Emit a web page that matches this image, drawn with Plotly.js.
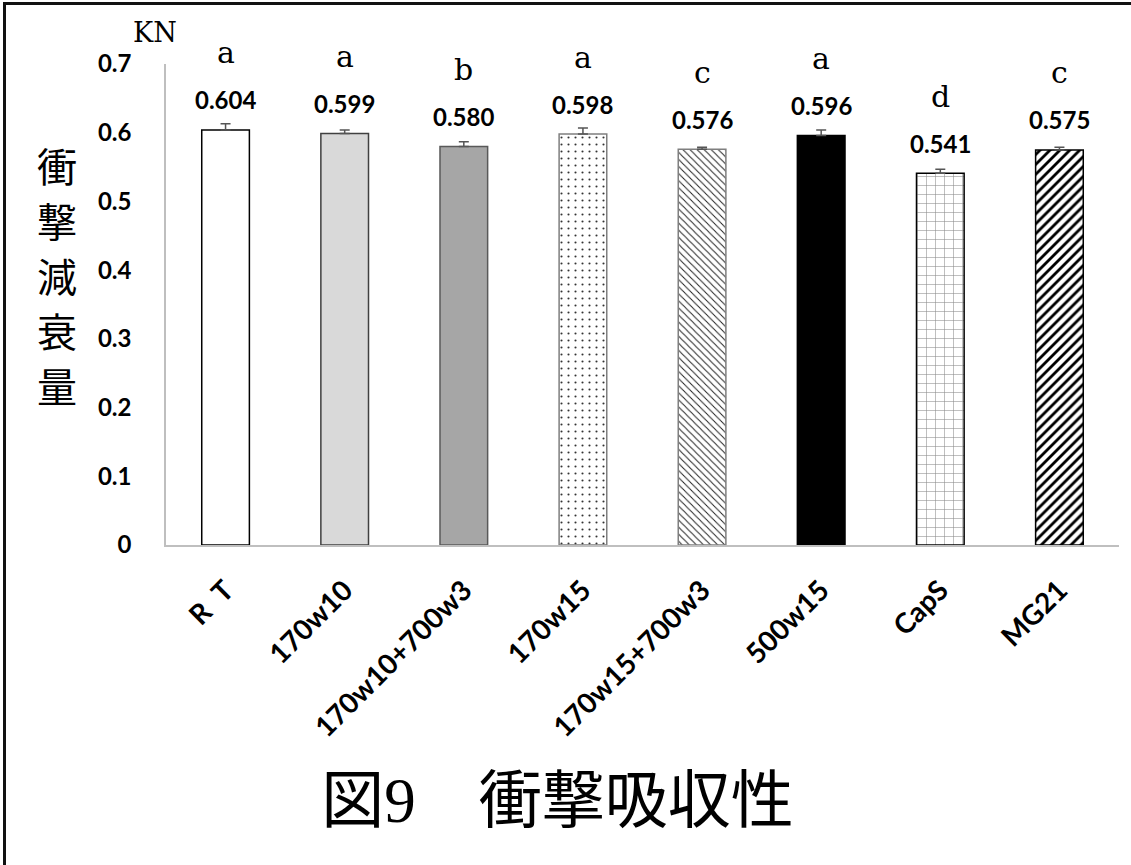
<!DOCTYPE html>
<html>
<head>
<meta charset="utf-8">
<script src="https://cdn.plot.ly/plotly-3.0.1.min.js"></script>
<style>
  html, body { margin: 0; padding: 0; background: #fff; }
  #chart { width: 1131px; height: 865px; }
  #frame { position: absolute; left: 3px; top: 2px; width: 1140px; height: 880px;
           border-left: 3px solid #111; border-top: 3px solid #111; pointer-events: none; }
</style>
</head>
<body>
<div id="chart"></div>
<div id="frame"></div>
<script>
// ---- data ----
const categories = ["R\u2002T", "170w10", "170w10+700w3", "170w15", "170w15+700w3", "500w15", "CapS", "MG21"];
const values     = [0.604, 0.599, 0.580, 0.598, 0.576, 0.596, 0.541, 0.575];
const errors     = [0.009, 0.005, 0.007, 0.009, 0.003, 0.008, 0.006, 0.004];
const valueLabels = ["0.604", "0.599", "0.580", "0.598", "0.576", "0.596", "0.541", "0.575"];
const groupLetters = ["a", "a", "b", "a", "c", "a", "d", "c"];
const yTickValues = [0, 0.1, 0.2, 0.3, 0.4, 0.5, 0.6, 0.7];
const yTitleChars = ["衝", "撃", "減", "衰", "量"];

// ---- styles ----
// for patterned bars the marker colour is the pattern (foreground) colour
const fillColors = ["#ffffff", "#d9d9d9", "#a6a6a6", "#333333", "#222222", "#000000", "#8c8c8c", "#000000"];
const lineColors = ["#000000", "#404040", "#595959", "#7f7f7f", "#7f7f7f", "#000000", "#000000", "#000000"];
const patShapes  = ["", "", "", ".", "\\", "", "+", "/"];
const patSize    = [8, 8, 8, 7, 5, 8, 9, 7];
const patSolid   = [0.3, 0.3, 0.3, 0.07, 0.2, 0.3, 0.12, 0.4];

const numFont = "Lato, 'Open Sans', sans-serif";
const serifFont = "'DejaVu Serif', 'Liberation Serif', serif";
const cjkFont = "'Noto Sans CJK JP', 'Noto Sans CJK SC', sans-serif";

const trace = {
  type: "bar",
  x: categories,
  y: values,
  marker: {
    color: fillColors,
    line: { color: lineColors, width: 1.5 },
    pattern: { shape: patShapes, bgcolor: "#ffffff", size: patSize, solidity: patSolid, fillmode: "replace" }
  },
  error_y: {
    type: "data", symmetric: false,
    array: errors, arrayminus: errors.map(() => 0),
    color: "#555555", thickness: 1.5, width: 5
  },
  hoverinfo: "x+y",
  showlegend: false
};

const annotations = [];
categories.forEach((c, i) => {
  annotations.push({
    x: c, y: values[i], xref: "x", yref: "y",
    text: "<b>" + valueLabels[i] + "</b>",
    showarrow: false, yanchor: "middle", yshift: 30,
    font: { family: numFont, size: 24, color: "#000" }
  });
  annotations.push({
    x: c, y: values[i], xref: "x", yref: "y",
    text: groupLetters[i],
    showarrow: false, yanchor: "middle", yshift: 77,
    font: { family: serifFont, size: 30, color: "#000" }
  });
});
annotations.push({
  x: -0.0115, y: 1.0665, xref: "paper", yref: "paper",
  text: "KN", showarrow: false, xanchor: "center", yanchor: "middle",
  font: { family: serifFont, size: 27, color: "#000" }
});
yTitleChars.forEach((ch, i) => {
  annotations.push({
    x: -0.1144, y: 0.79 - i * 0.1143, xref: "paper", yref: "paper",
    text: ch, showarrow: false, xanchor: "center", yanchor: "middle",
    font: { family: cjkFont, size: 40, color: "#000" }
  });
});

const layout = {
  width: 1131, height: 865,
  margin: { l: 166, r: 12, t: 64, b: 320 },
  paper_bgcolor: "#ffffff", plot_bgcolor: "#ffffff",
  bargap: 0.6,
  title: {
    text: "図<span style=\"font-family:'Liberation Serif',serif\">9</span>　衝撃吸収性",
    x: 0.493, xref: "container", xanchor: "center",
    y: 0.0751, yref: "container", yanchor: "middle",
    font: { family: cjkFont, size: 63, color: "#000" }
  },
  xaxis: {
    type: "category",
    showline: true, linecolor: "#bfbfbf", linewidth: 1.5,
    showgrid: false, zeroline: false, ticks: "",
    tickangle: -45, ticklabelstandoff: 16,
    tickfont: { family: numFont, size: 28, color: "#000", weight: "bold" }
  },
  yaxis: {
    range: [0, 0.7],
    tickvals: yTickValues,
    ticktext: yTickValues.map(v => "<b>" + String(v) + "</b>"),
    showline: true, linecolor: "#bfbfbf", linewidth: 1.5,
    showgrid: false, zeroline: false, ticks: "",
    ticklabelstandoff: 28,
    tickfont: { family: numFont, size: 24, color: "#000" }
  },
  annotations: annotations
};

Plotly.newPlot("chart", [trace], layout, { displayModeBar: false });
</script>
</body>
</html>
